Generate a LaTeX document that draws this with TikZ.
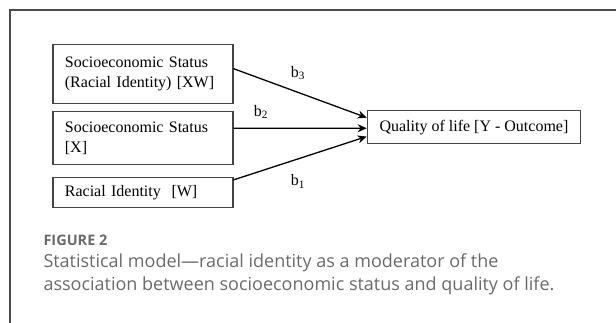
\documentclass[tikz,border=0pt]{standalone}
\usepackage{fontspec}
\setmainfont{Liberation Serif}
\newfontfamily\capfont{Open Sans}
\usetikzlibrary{arrows.meta}
\definecolor{framegray}{HTML}{4A4A4A}
\definecolor{capgray}{HTML}{6A6A6A}
\definecolor{boxgray}{HTML}{444444}
\tikzset{
  varbox/.style={draw=boxgray, line width=1.2pt, anchor=north west, font=\fontsize{16}{20}\selectfont,
    align=left, text width=156pt, inner xsep=12pt, inner ysep=0pt, minimum width=180pt},
  outbox/.style={draw=boxgray, line width=1.2pt, anchor=north west, font=\fontsize{16}{20}\selectfont,
    minimum width=213.3pt, minimum height=33.3pt, inner sep=0pt},
  arrowline/.style={line width=1.3pt, -{Stealth[length=9pt,width=8pt]}},
  coef/.style={font=\fontsize{16}{18}\selectfont, inner sep=0pt},
  frameline/.style={draw=framegray, line width=1.2pt},
  capttl/.style={anchor=west, text=capgray, inner sep=0pt, font=\capfont\bfseries\fontsize{14.5}{16}\selectfont},
  captxt/.style={anchor=west, text=capgray, inner sep=0pt, font=\capfont\fontsize{18}{24}\selectfont}
}
\begin{document}
\begin{tikzpicture}[x=1pt,y=-1pt]
\useasboundingbox (0,0) rectangle (616,323);
\draw[frameline] (10,323) -- (10,10) -- (616,10);
\node[varbox, minimum height=59.3pt] (xw) at (52.3,44) {Socioeconomic Status\\(Racial Identity) [XW]};
\node[varbox, minimum height=53pt] (x) at (52.3,111.3) {Socioeconomic Status\\{}[X]};
\node[varbox, minimum height=30.6pt] (w) at (52.3,176.7) {Racial Identity~~[W]};
\node[outbox] (y) at (366.7,110) {Quality of life [Y - Outcome]};
\draw[arrowline] ([yshift=5.6pt]xw.east) -- ([yshift=9.6pt]y.west);
\draw[arrowline] ([yshift=10.1pt]x.east) -- ([yshift=-1pt]y.west);
\draw[arrowline] ([yshift=12.7pt]w.east) -- ([yshift=-9.3pt]y.west);
\node[coef] (b3) at (298,73) {b\textsubscript{3}};
\node[coef] (b2) at (261,112) {b\textsubscript{2}};
\node[coef] (b1) at (298,181.7) {b\textsubscript{1}};
\node[capttl] (ft) at (43.3,240) {FIGURE 2};
\node[captxt] (c1) at (43.3,262.3) {Statistical model—racial identity as a moderator of the};
\node[captxt] (c2) at (43.3,285.7) {association between socioeconomic status and quality of life.};
\end{tikzpicture}
\end{document}
